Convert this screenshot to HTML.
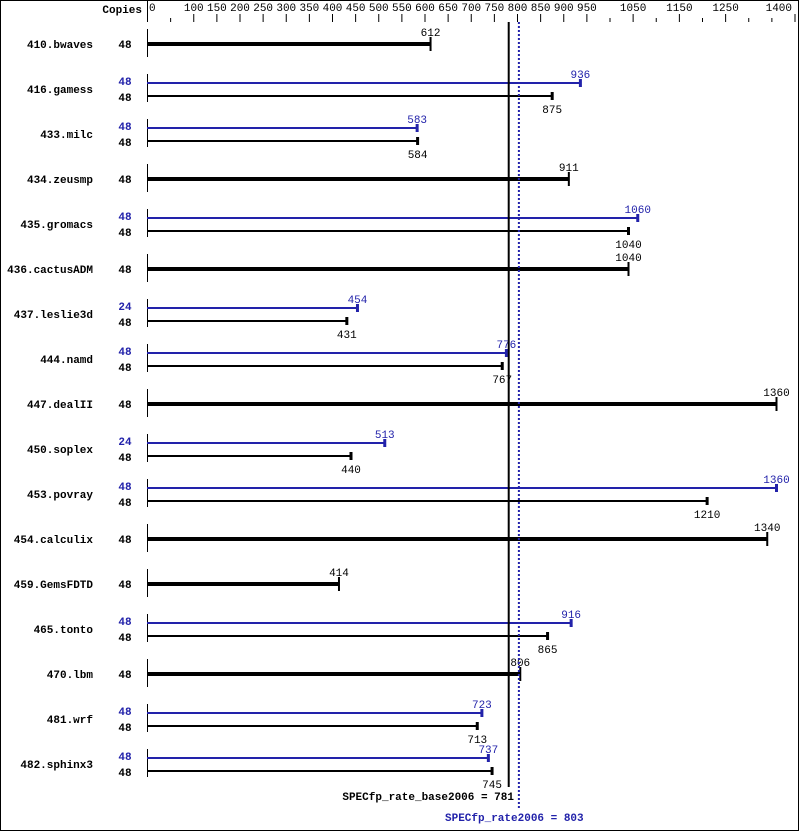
<!DOCTYPE html><html><head><style>body{margin:0;background:#fff}svg{display:block}text{font-family:"Liberation Mono","DejaVu Sans Mono",monospace;font-size:11px}</style></head><body>
<svg id="s" width="799" height="831" xmlns="http://www.w3.org/2000/svg"></svg>
<script>
const X0=147.5,K=0.4625,B='#2222aa';
const x=v=>X0+v*K;
let h='<rect x="0.5" y="0.5" width="798" height="830" fill="#fff" stroke="#000"/>';
h+=`<line x1="147.5" y1="0" x2="147.5" y2="22" stroke="#000"/>`;
h+=`<text x="142" y="13" text-anchor="end" font-weight="bold">Copies</text>`;
h+=`<text x="149" y="11">0</text>`;
const maj=[100,150,200,250,300,350,400,450,500,550,600,650,700,750,800,850,900,950,1050,1150,1250,1400];
const mn=[50,1000,1100,1200,1300,1350];
maj.forEach(v=>{h+=`<line x1="${x(v)}" y1="14" x2="${x(v)}" y2="22" stroke="#000"/>`;
if(v==1400)h+=`<text x="792" y="11" text-anchor="end">1400</text>`;else h+=`<text x="${x(v)}" y="11" text-anchor="middle">${v}</text>`});
mn.forEach(v=>{h+=`<line x1="${x(v)}" y1="18" x2="${x(v)}" y2="22" stroke="#000"/>`});
const rows=[["410.bwaves",612],["416.gamess",875,936,48],["433.milc",584,583,48],["434.zeusmp",911],["435.gromacs",1040,1060,48],["436.cactusADM",1040],["437.leslie3d",431,454,24],["444.namd",767,776,48],["447.dealII",1360],["450.soplex",440,513,24],["453.povray",1210,1360,48],["454.calculix",1340],["459.GemsFDTD",414],["465.tonto",865,916,48],["470.lbm",806],["481.wrf",713,723,48],["482.sphinx3",745,737,48]];
rows.forEach((r,i)=>{const y=44+i*45;
h+=`<text x="93" y="${y+4}" text-anchor="end" font-weight="bold">${r[0]}</text>`;
h+=`<line x1="147.5" y1="${y-15}" x2="147.5" y2="${y+13}" stroke="#000"/>`;
if(r.length==2){const e=x(r[1]);
h+=`<text x="125" y="${y+4}" text-anchor="middle" font-weight="bold">48</text>`;
h+=`<line x1="147" y1="${y}" x2="${e}" y2="${y}" stroke="#000" stroke-width="4"/><line x1="${e}" y1="${y-7}" x2="${e}" y2="${y+7}" stroke="#000" stroke-width="2"/>`;
h+=`<text x="${e}" y="${y-8}" text-anchor="middle">${r[1]}</text>`;}
else{const yb=y-6,yk=y+7,eb=x(r[2]),ek=x(r[1]);
h+=`<text x="125" y="${yb+2}" text-anchor="middle" font-weight="bold" fill="${B}">${r[3]}</text><text x="125" y="${yk+5}" text-anchor="middle" font-weight="bold">48</text>`;
h+=`<line x1="147" y1="${yb}" x2="${eb}" y2="${yb}" stroke="${B}" stroke-width="2"/><line x1="${eb}" y1="${yb-4}" x2="${eb}" y2="${yb+4}" stroke="${B}" stroke-width="3"/>`;
h+=`<line x1="147" y1="${yk}" x2="${ek}" y2="${yk}" stroke="#000" stroke-width="2"/><line x1="${ek}" y1="${yk-4}" x2="${ek}" y2="${yk+4}" stroke="#000" stroke-width="3"/>`;
h+=`<text x="${eb}" y="${yb-5}" text-anchor="middle" fill="${B}">${r[2]}</text><text x="${ek}" y="${yk+17}" text-anchor="middle">${r[1]}</text>`;}
});
h+=`<line x1="${x(781)}" y1="22" x2="${x(781)}" y2="787" stroke="#000" stroke-width="2"/>`;
h+=`<line x1="${x(803)}" y1="22" x2="${x(803)}" y2="808" stroke="${B}" stroke-width="2" stroke-dasharray="2,2"/>`;
h+=`<text x="514" y="800" text-anchor="end" font-weight="bold">SPECfp_rate_base2006 = 781</text>`;
h+=`<text x="445" y="821" font-weight="bold" fill="${B}">SPECfp_rate2006 = 803</text>`;
document.getElementById('s').innerHTML=h;
</script></body></html>
